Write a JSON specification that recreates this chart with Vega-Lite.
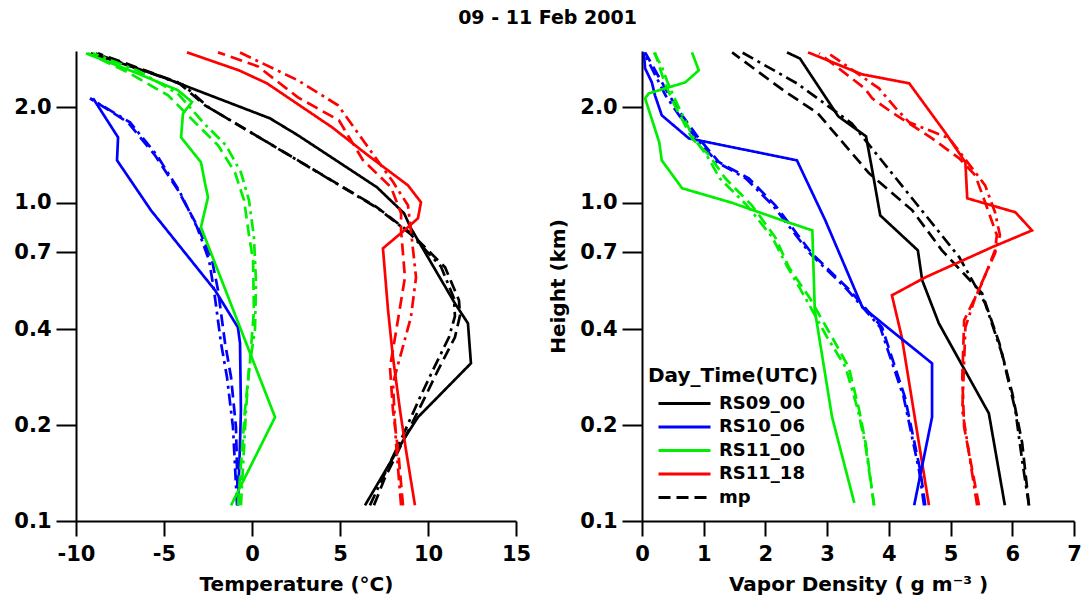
{
"$schema": "https://vega.github.io/schema/vega-lite/v6.json",
"padding": {"left": 13, "top": 8, "right": 6, "bottom": 2},
"title": {"text": "09 - 11 Feb 2001", "fontSize": 19, "font": "DejaVu Sans", "fontWeight": "bold", "anchor": "middle", "offset": 19, "color": "black"},
"config": {
  "font": "DejaVu Sans",
  "view": {"stroke": null},
  "axis": {"grid": false, "domainColor": "black", "domainWidth": 2, "tickColor": "black", "tickWidth": 2, "labelColor": "black", "titleColor": "black", "labelFontSize": 21, "labelFontWeight": "bold", "titleFontSize": 20, "titleFontWeight": "bold", "labelOverlap": false, "labelFlush": false},
  "axisX": {"tickSize": 15, "labelPadding": 7, "titlePadding": 10, "labelExpr": "replace(datum.label, '\u2212', '-')"},
  "axisY": {"tickSize": 20, "labelPadding": 5, "titlePadding": 11}
},
"datasets": {
"temp": [
{"s":"RS09_00","h":2.95,"v":-9.15},{"s":"RS09_00","h":2.515,"v":-5.34},{"s":"RS09_00","h":1.843,"v":1.02},{"s":"RS09_00","h":1.63,"v":2.61},{"s":"RS09_00","h":1.119,"v":7.10},{"s":"RS09_00","h":0.927,"v":8.64},{"s":"RS09_00","h":0.832,"v":9.03},{"s":"RS09_00","h":0.483,"v":11.53},{"s":"RS09_00","h":0.418,"v":12.27},{"s":"RS09_00","h":0.313,"v":12.44},{"s":"RS09_00","h":0.212,"v":9.43},{"s":"RS09_00","h":0.183,"v":8.69},{"s":"RS09_00","h":0.112,"v":6.42},
{"s":"mp09_00","h":2.95,"v":-8.75},{"s":"mp09_00","h":2.39,"v":-4.20},{"s":"mp09_00","h":2.025,"v":-2.67},{"s":"mp09_00","h":1.36,"v":2.61},{"s":"mp09_00","h":0.968,"v":7.10},{"s":"mp09_00","h":0.802,"v":9.03},{"s":"mp09_00","h":0.627,"v":10.97},{"s":"mp09_00","h":0.494,"v":11.76},{"s":"mp09_00","h":0.443,"v":11.82},{"s":"mp09_00","h":0.378,"v":11.53},{"s":"mp09_00","h":0.298,"v":10.57},{"s":"mp09_00","h":0.245,"v":9.83},{"s":"mp09_00","h":0.183,"v":8.69},{"s":"mp09_00","h":0.137,"v":7.56},{"s":"mp09_00","h":0.112,"v":6.93},
{"s":"dd09_00","h":2.95,"v":-8.92},{"s":"dd09_00","h":2.35,"v":-3.92},{"s":"dd09_00","h":2.0,"v":-2.5},{"s":"dd09_00","h":1.38,"v":2.4},{"s":"dd09_00","h":0.96,"v":7.16},{"s":"dd09_00","h":0.80,"v":8.98},{"s":"dd09_00","h":0.63,"v":10.74},{"s":"dd09_00","h":0.50,"v":11.48},{"s":"dd09_00","h":0.44,"v":11.53},{"s":"dd09_00","h":0.378,"v":11.19},{"s":"dd09_00","h":0.298,"v":10.28},{"s":"dd09_00","h":0.245,"v":9.55},{"s":"dd09_00","h":0.183,"v":8.52},{"s":"dd09_00","h":0.137,"v":7.44},{"s":"dd09_00","h":0.112,"v":6.70},
{"s":"RS11_18","h":2.97,"v":-3.69},{"s":"RS11_18","h":2.608,"v":-0.74},{"s":"RS11_18","h":2.374,"v":0.85},{"s":"RS11_18","h":1.727,"v":4.55},{"s":"RS11_18","h":1.41,"v":6.59},{"s":"RS11_18","h":1.135,"v":8.86},{"s":"RS11_18","h":1.004,"v":9.60},{"s":"RS11_18","h":0.894,"v":9.43},{"s":"RS11_18","h":0.838,"v":8.86},{"s":"RS11_18","h":0.719,"v":7.44},{"s":"RS11_18","h":0.46,"v":7.73},{"s":"RS11_18","h":0.327,"v":8.01},{"s":"RS11_18","h":0.223,"v":8.41},{"s":"RS11_18","h":0.167,"v":8.75},{"s":"RS11_18","h":0.112,"v":9.26},
{"s":"mp11_18","h":2.97,"v":-1.93},{"s":"mp11_18","h":2.684,"v":0.34},{"s":"mp11_18","h":2.145,"v":2.61},{"s":"mp11_18","h":1.816,"v":4.94},{"s":"mp11_18","h":1.36,"v":6.31},{"s":"mp11_18","h":1.119,"v":7.90},{"s":"mp11_18","h":0.927,"v":8.47},{"s":"mp11_18","h":0.819,"v":8.47},{"s":"mp11_18","h":0.583,"v":8.69},{"s":"mp11_18","h":0.378,"v":8.13},{"s":"mp11_18","h":0.304,"v":7.84},{"s":"mp11_18","h":0.223,"v":8.01},{"s":"mp11_18","h":0.167,"v":8.30},{"s":"mp11_18","h":0.112,"v":8.58},
{"s":"dd11_18","h":2.97,"v":-0.7},{"s":"dd11_18","h":2.426,"v":2.61},{"s":"dd11_18","h":2.025,"v":4.89},{"s":"dd11_18","h":1.572,"v":6.31},{"s":"dd11_18","h":1.164,"v":8.01},{"s":"dd11_18","h":0.982,"v":8.86},{"s":"dd11_18","h":0.819,"v":9.03},{"s":"dd11_18","h":0.583,"v":9.32},{"s":"dd11_18","h":0.437,"v":9.03},{"s":"dd11_18","h":0.327,"v":8.41},{"s":"dd11_18","h":0.271,"v":8.01},{"s":"dd11_18","h":0.176,"v":8.18},{"s":"dd11_18","h":0.112,"v":8.47},
{"s":"RS10_06","h":2.13,"v":-9.03},{"s":"RS10_06","h":1.606,"v":-7.61},{"s":"RS10_06","h":1.36,"v":-7.67},{"s":"RS10_06","h":0.947,"v":-5.74},{"s":"RS10_06","h":0.531,"v":-2.10},{"s":"RS10_06","h":0.406,"v":-0.80},{"s":"RS10_06","h":0.362,"v":-0.68},{"s":"RS10_06","h":0.223,"v":-0.63},{"s":"RS10_06","h":0.176,"v":-0.68},{"s":"RS10_06","h":0.112,"v":-0.80},
{"s":"mp10_06","h":2.13,"v":-9.20},{"s":"mp10_06","h":1.79,"v":-7.05},{"s":"mp10_06","h":1.41,"v":-5.51},{"s":"mp10_06","h":1.095,"v":-4.20},{"s":"mp10_06","h":0.838,"v":-3.07},{"s":"mp10_06","h":0.66,"v":-2.27},{"s":"mp10_06","h":0.531,"v":-1.93},{"s":"mp10_06","h":0.362,"v":-1.53},{"s":"mp10_06","h":0.283,"v":-1.19},{"s":"mp10_06","h":0.197,"v":-0.91},{"s":"mp10_06","h":0.112,"v":-0.80},
{"s":"dd10_06","h":2.13,"v":-9.20},{"s":"dd10_06","h":1.79,"v":-6.93},{"s":"dd10_06","h":1.41,"v":-5.40},{"s":"dd10_06","h":1.095,"v":-4.15},{"s":"dd10_06","h":0.838,"v":-3.12},{"s":"dd10_06","h":0.66,"v":-2.44},{"s":"dd10_06","h":0.531,"v":-2.16},{"s":"dd10_06","h":0.362,"v":-1.76},{"s":"dd10_06","h":0.283,"v":-1.42},{"s":"dd10_06","h":0.197,"v":-1.08},{"s":"dd10_06","h":0.112,"v":-0.85},
{"s":"RS11_00","h":2.95,"v":-9.43},{"s":"RS11_00","h":2.57,"v":-6.65},{"s":"RS11_00","h":2.257,"v":-4.20},{"s":"RS11_00","h":2.074,"v":-3.41},{"s":"RS11_00","h":1.91,"v":-3.92},{"s":"RS11_00","h":1.606,"v":-4.03},{"s":"RS11_00","h":1.341,"v":-2.90},{"s":"RS11_00","h":1.152,"v":-2.67},{"s":"RS11_00","h":1.041,"v":-2.50},{"s":"RS11_00","h":0.838,"v":-2.90},{"s":"RS11_00","h":0.212,"v":1.31},{"s":"RS11_00","h":0.112,"v":-1.19},
{"s":"mp11_00","h":2.95,"v":-9.32},{"s":"mp11_00","h":2.57,"v":-7.05},{"s":"mp11_00","h":2.177,"v":-4.77},{"s":"mp11_00","h":1.79,"v":-3.24},{"s":"mp11_00","h":1.516,"v":-1.93},{"s":"mp11_00","h":1.247,"v":-0.97},{"s":"mp11_00","h":1.018,"v":-0.45},{"s":"mp11_00","h":0.791,"v":-0.17},{"s":"mp11_00","h":0.66,"v":0.06},{"s":"mp11_00","h":0.46,"v":0.11},{"s":"mp11_00","h":0.32,"v":-0.11},{"s":"mp11_00","h":0.223,"v":-0.40},{"s":"mp11_00","h":0.112,"v":-0.80},
{"s":"dd11_00","h":2.95,"v":-9.03},{"s":"dd11_00","h":2.6,"v":-6.48},{"s":"dd11_00","h":2.2,"v":-4.20},{"s":"dd11_00","h":1.79,"v":-2.78},{"s":"dd11_00","h":1.516,"v":-1.48},{"s":"dd11_00","h":1.247,"v":-0.63},{"s":"dd11_00","h":1.018,"v":-0.17},{"s":"dd11_00","h":0.78,"v":0.11},{"s":"dd11_00","h":0.56,"v":0.23},{"s":"dd11_00","h":0.40,"v":0.17},{"s":"dd11_00","h":0.30,"v":-0.17},{"s":"dd11_00","h":0.223,"v":-0.34},{"s":"dd11_00","h":0.112,"v":-0.63}
],
"vap": [
{"s":"RS09_00","h":2.97,"v":2.35},{"s":"RS09_00","h":2.84,"v":2.56},{"s":"RS09_00","h":1.87,"v":3.18},{"s":"RS09_00","h":1.618,"v":3.63},{"s":"RS09_00","h":1.238,"v":3.74},{"s":"RS09_00","h":0.913,"v":3.86},{"s":"RS09_00","h":0.709,"v":4.47},{"s":"RS09_00","h":0.571,"v":4.54},{"s":"RS09_00","h":0.418,"v":4.81},{"s":"RS09_00","h":0.218,"v":5.62},{"s":"RS09_00","h":0.112,"v":5.88},
{"s":"mp09_00","h":2.97,"v":1.46},{"s":"mp09_00","h":2.257,"v":2.29},{"s":"mp09_00","h":1.91,"v":2.85},{"s":"mp09_00","h":1.238,"v":3.68},{"s":"mp09_00","h":0.947,"v":4.38},{"s":"mp09_00","h":0.709,"v":4.86},{"s":"mp09_00","h":0.52,"v":5.51},{"s":"mp09_00","h":0.362,"v":5.79},{"s":"mp09_00","h":0.252,"v":6.00},{"s":"mp09_00","h":0.176,"v":6.16},{"s":"mp09_00","h":0.112,"v":6.27},
{"s":"dd09_00","h":2.97,"v":1.62},{"s":"dd09_00","h":2.374,"v":2.51},{"s":"dd09_00","h":1.777,"v":3.40},{"s":"dd09_00","h":0.986,"v":4.46},{"s":"dd09_00","h":0.675,"v":5.14},{"s":"dd09_00","h":0.483,"v":5.56},{"s":"dd09_00","h":0.337,"v":5.83},{"s":"dd09_00","h":0.223,"v":6.05},{"s":"dd09_00","h":0.155,"v":6.16},{"s":"dd09_00","h":0.112,"v":6.27},
{"s":"RS11_18","h":2.97,"v":2.69},{"s":"RS11_18","h":2.533,"v":3.57},{"s":"RS11_18","h":2.374,"v":4.33},{"s":"RS11_18","h":1.666,"v":4.91},{"s":"RS11_18","h":1.341,"v":5.24},{"s":"RS11_18","h":1.033,"v":5.27},{"s":"RS11_18","h":0.934,"v":6.05},{"s":"RS11_18","h":0.819,"v":6.32},{"s":"RS11_18","h":0.725,"v":5.67},{"s":"RS11_18","h":0.583,"v":4.59},{"s":"RS11_18","h":0.512,"v":4.05},{"s":"RS11_18","h":0.378,"v":4.21},{"s":"RS11_18","h":0.112,"v":4.65},
{"s":"mp11_18","h":2.95,"v":2.87},{"s":"mp11_18","h":2.289,"v":3.61},{"s":"mp11_18","h":2.13,"v":3.73},{"s":"mp11_18","h":1.924,"v":4.05},{"s":"mp11_18","h":1.594,"v":4.70},{"s":"mp11_18","h":1.38,"v":5.14},{"s":"mp11_18","h":1.22,"v":5.40},{"s":"mp11_18","h":1.004,"v":5.56},{"s":"mp11_18","h":0.791,"v":5.75},{"s":"mp11_18","h":0.709,"v":5.72},{"s":"mp11_18","h":0.559,"v":5.51},{"s":"mp11_18","h":0.427,"v":5.22},{"s":"mp11_18","h":0.283,"v":5.19},{"s":"mp11_18","h":0.197,"v":5.22},{"s":"mp11_18","h":0.112,"v":5.46},
{"s":"dd11_18","h":2.97,"v":3.00},{"s":"dd11_18","h":2.289,"v":3.84},{"s":"dd11_18","h":1.995,"v":4.10},{"s":"dd11_18","h":1.79,"v":4.33},{"s":"dd11_18","h":1.594,"v":4.98},{"s":"dd11_18","h":1.247,"v":5.40},{"s":"dd11_18","h":1.135,"v":5.56},{"s":"dd11_18","h":0.934,"v":5.72},{"s":"dd11_18","h":0.791,"v":5.80},{"s":"dd11_18","h":0.694,"v":5.72},{"s":"dd11_18","h":0.505,"v":5.40},{"s":"dd11_18","h":0.406,"v":5.24},{"s":"dd11_18","h":0.318,"v":5.22},{"s":"dd11_18","h":0.223,"v":5.19},{"s":"dd11_18","h":0.112,"v":5.43},
{"s":"RS10_06","h":2.97,"v":0.03},{"s":"RS10_06","h":2.646,"v":0.05},{"s":"RS10_06","h":2.39,"v":0.16},{"s":"RS10_06","h":2.177,"v":0.21},{"s":"RS10_06","h":1.884,"v":0.32},{"s":"RS10_06","h":1.594,"v":0.76},{"s":"RS10_06","h":1.36,"v":2.51},{"s":"RS10_06","h":0.881,"v":2.97},{"s":"RS10_06","h":0.47,"v":3.57},{"s":"RS10_06","h":0.313,"v":4.70},{"s":"RS10_06","h":0.212,"v":4.70},{"s":"RS10_06","h":0.112,"v":4.41},
{"s":"mp10_06","h":2.97,"v":0.05},{"s":"mp10_06","h":2.177,"v":0.44},{"s":"mp10_06","h":1.884,"v":0.65},{"s":"mp10_06","h":1.594,"v":0.92},{"s":"mp10_06","h":1.341,"v":1.25},{"s":"mp10_06","h":1.194,"v":1.73},{"s":"mp10_06","h":0.982,"v":2.16},{"s":"mp10_06","h":0.694,"v":2.75},{"s":"mp10_06","h":0.535,"v":3.35},{"s":"mp10_06","h":0.406,"v":3.89},{"s":"mp10_06","h":0.245,"v":4.26},{"s":"mp10_06","h":0.144,"v":4.51},{"s":"mp10_06","h":0.112,"v":4.59},
{"s":"dd10_06","h":2.97,"v":0.03},{"s":"dd10_06","h":2.177,"v":0.38},{"s":"dd10_06","h":1.884,"v":0.60},{"s":"dd10_06","h":1.594,"v":0.88},{"s":"dd10_06","h":1.341,"v":1.22},{"s":"dd10_06","h":1.194,"v":1.68},{"s":"dd10_06","h":0.982,"v":2.12},{"s":"dd10_06","h":0.694,"v":2.72},{"s":"dd10_06","h":0.535,"v":3.32},{"s":"dd10_06","h":0.406,"v":3.86},{"s":"dd10_06","h":0.245,"v":4.24},{"s":"dd10_06","h":0.144,"v":4.49},{"s":"dd10_06","h":0.112,"v":4.57},
{"s":"RS11_00","h":2.97,"v":0.81},{"s":"RS11_00","h":2.608,"v":0.92},{"s":"RS11_00","h":2.39,"v":0.70},{"s":"RS11_00","h":2.208,"v":0.11},{"s":"RS11_00","h":2.13,"v":0.05},{"s":"RS11_00","h":1.549,"v":0.28},{"s":"RS11_00","h":1.36,"v":0.32},{"s":"RS11_00","h":1.111,"v":0.65},{"s":"RS11_00","h":1.0,"v":1.46},{"s":"RS11_00","h":0.881,"v":2.27},{"s":"RS11_00","h":0.819,"v":2.76},{"s":"RS11_00","h":0.46,"v":2.80},{"s":"RS11_00","h":0.212,"v":3.08},{"s":"RS11_00","h":0.114,"v":3.44},
{"s":"mp11_00","h":2.97,"v":0.21},{"s":"mp11_00","h":2.684,"v":0.28},{"s":"mp11_00","h":2.374,"v":0.37},{"s":"mp11_00","h":2.025,"v":0.53},{"s":"mp11_00","h":1.594,"v":0.81},{"s":"mp11_00","h":1.41,"v":1.09},{"s":"mp11_00","h":1.194,"v":1.35},{"s":"mp11_00","h":0.982,"v":1.78},{"s":"mp11_00","h":0.779,"v":2.16},{"s":"mp11_00","h":0.627,"v":2.38},{"s":"mp11_00","h":0.505,"v":2.71},{"s":"mp11_00","h":0.378,"v":3.08},{"s":"mp11_00","h":0.304,"v":3.35},{"s":"mp11_00","h":0.223,"v":3.52},{"s":"mp11_00","h":0.173,"v":3.63},{"s":"mp11_00","h":0.112,"v":3.76},
{"s":"dd11_00","h":2.97,"v":0.19},{"s":"dd11_00","h":2.684,"v":0.32},{"s":"dd11_00","h":2.374,"v":0.42},{"s":"dd11_00","h":2.025,"v":0.58},{"s":"dd11_00","h":1.594,"v":0.84},{"s":"dd11_00","h":1.41,"v":1.05},{"s":"dd11_00","h":1.194,"v":1.26},{"s":"dd11_00","h":0.982,"v":1.70},{"s":"dd11_00","h":0.779,"v":2.11},{"s":"dd11_00","h":0.627,"v":2.36},{"s":"dd11_00","h":0.505,"v":2.64},{"s":"dd11_00","h":0.378,"v":3.00},{"s":"dd11_00","h":0.304,"v":3.30},{"s":"dd11_00","h":0.223,"v":3.50},{"s":"dd11_00","h":0.173,"v":3.62},{"s":"dd11_00","h":0.112,"v":3.76}
]
},
"spacing": 17,
"resolve": {"scale": {"color": "independent", "strokeDash": "independent"}},
"hconcat": [
{
 "width": 440, "height": 470,
 "data": {"name": "temp"},
 "mark": {"type": "line", "strokeWidth": 2.7},
 "encoding": {
  "x": {"field": "v", "type": "quantitative", "scale": {"domain": [-10, 15], "nice": false, "zero": false}, "axis": {"values": [-10, -5, 0, 5, 10, 15], "title": "Temperature (°C)"}},
  "y": {"field": "h", "type": "quantitative", "scale": {"type": "log", "domain": [0.1, 3], "nice": false}, "axis": {"values": [0.1, 0.2, 0.4, 0.7, 1.0, 2.0], "format": ".1f", "title": null}},
  "color": {"field": "s", "type": "nominal", "legend": null, "scale": {"domain": ["RS09_00","RS10_06","RS11_00","RS11_18","mp","mp09_00","mp10_06","mp11_00","mp11_18","dd09_00","dd10_06","dd11_00","dd11_18"], "range": ["#000000","#0000ff","#00ee00","#ff0000","#000000","#000000","#0000ff","#00ee00","#ff0000","#000000","#0000ff","#00ee00","#ff0000"]}},
  "strokeDash": {"field": "s", "type": "nominal", "legend": null, "scale": {"domain": ["RS09_00","RS10_06","RS11_00","RS11_18","mp","mp09_00","mp10_06","mp11_00","mp11_18","dd09_00","dd10_06","dd11_00","dd11_18"], "range": [[1,0],[1,0],[1,0],[1,0],[12,6],[12,6],[12,6],[12,6],[12,6],[12,5,3,5],[12,5,3,5],[12,5,3,5],[12,5,3,5]]}},
  "order": {"field": "h", "type": "quantitative"}
 }
},
{
 "width": 432, "height": 470,
 "data": {"name": "vap"},
 "mark": {"type": "line", "strokeWidth": 2.7},
 "encoding": {
  "x": {"field": "v", "type": "quantitative", "scale": {"domain": [0, 7], "nice": false, "zero": false}, "axis": {"values": [0, 1, 2, 3, 4, 5, 6, 7], "title": "Vapor Density (  g m⁻³  )"}},
  "y": {"field": "h", "type": "quantitative", "scale": {"type": "log", "domain": [0.1, 3], "nice": false}, "axis": {"values": [0.1, 0.2, 0.4, 0.7, 1.0, 2.0], "format": ".1f", "title": "Height (km)"}},
  "color": {"field": "s", "type": "nominal", "scale": {"domain": ["RS09_00","RS10_06","RS11_00","RS11_18","mp","mp09_00","mp10_06","mp11_00","mp11_18","dd09_00","dd10_06","dd11_00","dd11_18"], "range": ["#000000","#0000ff","#00ee00","#ff0000","#000000","#000000","#0000ff","#00ee00","#ff0000","#000000","#0000ff","#00ee00","#ff0000"]},
   "legend": {"values": ["RS09_00","RS10_06","RS11_00","RS11_18","mp"], "title": "Day_Time(UTC)", "orient": "none", "legendX": 6, "legendY": 315, "symbolType": "M-0.1,0H5.1", "symbolSize": 400, "symbolStrokeWidth": 3, "labelFontSize": 18, "labelFontWeight": "bold", "labelColor": "black", "titleFontSize": 20, "titleFontWeight": "bold", "titleColor": "black", "rowPadding": 2.5, "titlePadding": 6, "labelOffset": 48}},
  "strokeDash": {"field": "s", "type": "nominal", "scale": {"domain": ["RS09_00","RS10_06","RS11_00","RS11_18","mp","mp09_00","mp10_06","mp11_00","mp11_18","dd09_00","dd10_06","dd11_00","dd11_18"], "range": [[1,0],[1,0],[1,0],[1,0],[12,6],[12,6],[12,6],[12,6],[12,6],[12,5,3,5],[12,5,3,5],[12,5,3,5],[12,5,3,5]]},
   "legend": {"values": ["RS09_00","RS10_06","RS11_00","RS11_18","mp"], "title": "Day_Time(UTC)", "orient": "none", "legendX": 6, "legendY": 315, "symbolType": "M-0.1,0H5.1", "symbolSize": 400, "symbolStrokeWidth": 3, "labelFontSize": 18, "labelFontWeight": "bold", "labelColor": "black", "titleFontSize": 20, "titleFontWeight": "bold", "titleColor": "black", "rowPadding": 2.5, "titlePadding": 6, "labelOffset": 48}},
  "order": {"field": "h", "type": "quantitative"}
 }
}
]
}
